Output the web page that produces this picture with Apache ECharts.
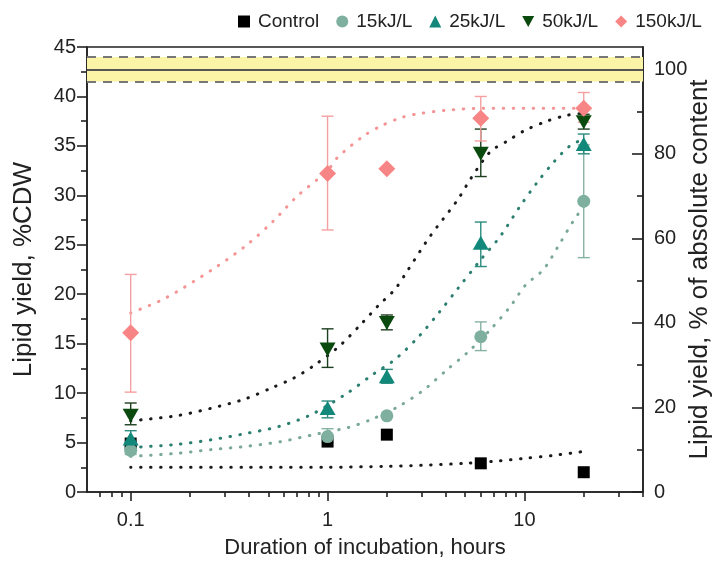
<!DOCTYPE html>
<html>
<head>
<meta charset="utf-8">
<script src="https://cdn.jsdelivr.net/npm/echarts@6/dist/echarts.min.js"></script>
<style>
html,body{margin:0;padding:0;background:#fff;}
#chart{width:717px;height:567px;}
</style>
</head>
<body>
<div id="chart"></div>
<script>
// ---- data ----
const hours = [0.1, 1, 2, 6, 20];
const seriesNames = ['Control', '15kJ/L', '25kJ/L', '50kJ/L', '150kJ/L'];

const control = [4.9, 5.1, 5.8, 2.9, 2.0];
const kj15 = [4.2, 5.6, 7.7, 15.7, 29.4];
const kj25 = [5.4, 8.5, 11.7, 25.2, 35.2];
const kj50 = [7.7, 14.4, 17.1, 34.2, 37.4];
const kj150 = [16.1, 32.2, 32.7, 37.8, 38.8];

const kj15Low = [3.8, 5.0, null, 14.3, 23.7];
const kj15High = [4.6, 6.4, null, 17.2, 35.1];
const kj25Low = [4.6, 7.5, 11.0, 22.8, 34.2];
const kj25High = [6.2, 9.2, 12.4, 27.3, 36.2];
const kj50Low = [6.8, 12.6, 16.4, 31.9, 36.7];
const kj50High = [9.0, 16.5, 17.9, 36.7, 38.2];
const kj150Low = [10.1, 26.5, null, 35.5, 37.4];
const kj150High = [22.0, 38.0, null, 40.0, 40.4];

// fitted curves
const fitControlX = [0.1, 0.5, 1, 2, 3, 5, 7, 10, 14, 20];
const fitControlY = [2.5, 2.5, 2.5, 2.6, 2.7, 2.9, 3.1, 3.4, 3.7, 4.1];
const fit15X = [0.1, 0.17, 0.26, 0.38, 0.58, 0.85, 1.26, 1.65, 2.27, 3.07, 4.06, 5.13, 6.7, 8.5, 10.1, 12.5, 15.2, 17.7, 20];
const fit15Y = [3.6, 3.9, 4.3, 4.6, 5.1, 5.8, 6.5, 7.3, 8.6, 10.3, 12.4, 14.1, 16.4, 18.8, 20.9, 22.5, 25.2, 27.4, 28.9];
const fit25X = [0.1, 0.17, 0.26, 0.38, 0.56, 0.82, 1.26, 1.7, 2.2, 2.9, 3.7, 4.6, 6, 7.5, 9.5, 11.6, 14, 17, 20];
const fit25Y = [4.5, 4.8, 5.3, 5.9, 6.6, 7.8, 10.0, 11.9, 13.4, 15.7, 18.2, 20.6, 23.5, 25.8, 28.9, 31.3, 33.3, 35.0, 35.7];
const fit50X = [0.1, 0.17, 0.26, 0.38, 0.53, 0.67, 0.84, 1.14, 1.5, 1.8, 2.2, 2.55, 3.3, 4.6, 5.3, 6.7, 8.2, 9.9, 13, 16.5, 20];
const fit50Y = [7.2, 7.7, 8.5, 9.4, 10.6, 11.5, 12.7, 14.7, 17.1, 18.8, 20.5, 22.4, 25.8, 29.6, 31.6, 34.4, 35.5, 36.5, 37.5, 38.1, 38.3];
const fit150X = [0.1, 0.15, 0.26, 0.39, 0.53, 0.7, 1, 1.12, 1.5, 1.86, 2.4, 3, 4, 6, 10, 20];
const fit150Y = [18.1, 19.6, 22.5, 25.0, 27.4, 29.9, 32.5, 33.8, 35.9, 37.0, 37.9, 38.3, 38.6, 38.8, 38.8, 38.8];

// reference band (absolute content)
const bandLow = 41.5;
const bandMid = 42.75;
const bandHigh = 44;

// axes
const xMin = 0.06, xMax = 40;
const xTickLabels = [0.1, 1, 10];
const xMinorTicks = [0.07, 0.08, 0.09, 0.2, 0.3, 0.4, 0.5, 0.6, 0.7, 0.8, 0.9, 2, 3, 4, 5, 6, 7, 8, 9, 20, 30, 40];
const yLeftMax = 45;
const yRightMax = 105.3;
const yRightLabels = [0, 20, 40, 60, 80, 100];
const yRightMinor = [10, 30, 50, 70, 90];

// ---- chart ----
const FONT = 'Liberation Sans, Arial, sans-serif';
const colors = {
  'Control': '#000000',
  '15kJ/L': '#7fb09f',
  '25kJ/L': '#12887a',
  '50kJ/L': '#0b4a0e',
  '150kJ/L': '#f88585'
};
const errColors = {
  '15kJ/L': '#86b2a4',
  '25kJ/L': '#2a8a7d',
  '50kJ/L': '#1d3f1f',
  '150kJ/L': '#f5a0a0'
};
const symbols = {
  'Control': 'rect',
  '15kJ/L': 'circle',
  '25kJ/L': 'triangle',
  '50kJ/L': 'path://M0,0 L10,0 L5,9 Z',
  '150kJ/L': 'diamond'
};
const sizes = {
  'Control': 12,
  '15kJ/L': 13,
  '25kJ/L': [16, 14],
  '50kJ/L': [16, 14],
  '150kJ/L': [17, 17]
};
const values = [control, kj15, kj25, kj50, kj150];
const lows = [null, kj15Low, kj25Low, kj50Low, kj150Low];
const highs = [null, kj15High, kj25High, kj50High, kj150High];

const fits = [
  {x: fitControlX, y: fitControlY, color: '#1a1a1a'},
  {x: fit15X, y: fit15Y, color: '#7aa898'},
  {x: fit25X, y: fit25Y, color: '#2a7f70'},
  {x: fit50X, y: fit50Y, color: '#1a1a1a'},
  {x: fit150X, y: fit150Y, color: '#f49494'}
];

const series = [];

// reference band
series.push({
  type: 'line',
  name: 'band',
  xAxisIndex: 0, yAxisIndex: 0,
  data: [],
  silent: true,
  markArea: {
    silent: true,
    itemStyle: {color: '#fbf3a6'},
    data: [[{yAxis: bandLow}, {yAxis: bandHigh}]]
  },
  markLine: {
    silent: true,
    symbol: 'none',
    label: {show: false},
    data: [
      {yAxis: bandMid, lineStyle: {color: '#555', width: 2, type: 'solid'}},
      {yAxis: bandLow, lineStyle: {color: '#777', width: 2, type: [9, 7]}},
      {yAxis: bandHigh, lineStyle: {color: '#777', width: 2, type: [9, 7]}}
    ]
  },
  z: 1
});

fits.forEach(function (f) {
  series.push({
    type: 'line',
    xAxisIndex: 0, yAxisIndex: 0,
    data: f.x.map(function (v, i) { return [v, f.y[i]]; }),
    smooth: 0.3,
    showSymbol: false,
    silent: true,
    lineStyle: {color: f.color, width: 3, type: [0.5, 9.5], cap: 'round'},
    z: 2
  });
});

function errRenderer(color) {
  return function (params, api) {
    const x = api.value(0), lo = api.value(1), hi = api.value(2);
    const p1 = api.coord([x, lo]);
    const p2 = api.coord([x, hi]);
    const w = 6;
    const st = {stroke: color, lineWidth: 1.4, fill: null};
    return {
      type: 'group',
      children: [
        {type: 'line', shape: {x1: p1[0], y1: p1[1], x2: p2[0], y2: p2[1]}, style: st},
        {type: 'line', shape: {x1: p1[0] - w, y1: p1[1], x2: p1[0] + w, y2: p1[1]}, style: st},
        {type: 'line', shape: {x1: p2[0] - w, y1: p2[1], x2: p2[0] + w, y2: p2[1]}, style: st}
      ]
    };
  };
}

seriesNames.forEach(function (name, k) {
  if (lows[k]) {
    const d = [];
    hours.forEach(function (h, i) {
      if (lows[k][i] != null) d.push([h, lows[k][i], highs[k][i]]);
    });
    series.push({
      type: 'custom',
      xAxisIndex: 0, yAxisIndex: 0,
      renderItem: errRenderer(errColors[name]),
      encode: {x: 0, y: [1, 2]},
      data: d,
      silent: true,
      z: 3
    });
  }
});

seriesNames.forEach(function (name, k) {
  series.push({
    type: 'scatter',
    name: name,
    xAxisIndex: 0, yAxisIndex: 0,
    symbol: symbols[name],
    symbolSize: sizes[name],
    itemStyle: {color: colors[name], opacity: 1},
    data: hours.map(function (h, i) { return [h, values[k][i]]; }),
    z: 4
  });
});

const axisLineStyle = {color: '#222', width: 1.6};
const labelStyle = {color: '#222', fontSize: 20, fontFamily: FONT};
const yNameStyle = {color: '#222', fontSize: 26, fontFamily: FONT};
const xNameStyle = {color: '#222', fontSize: 22, fontFamily: FONT};

const option = {
  animation: false,
  backgroundColor: '#fff',
  textStyle: {fontFamily: FONT},
  legend: {
    data: seriesNames.map(function (n) { return {name: n, icon: symbols[n]}; }),
    left: 233,
    top: 7,
    itemWidth: 12,
    itemHeight: 12,
    itemGap: 17,
    textStyle: {color: '#222', fontSize: 19, fontFamily: FONT, padding: [0, 0, 0, 3]},
    selectedMode: false
  },
  grid: {
    left: 87, right: 74, top: 47, bottom: 75,
    containLabel: false,
    outerBoundsMode: 'none',
    show: true, borderColor: '#222', borderWidth: 1.6, backgroundColor: 'transparent'
  },
  xAxis: [
    {
      type: 'log', logBase: 10, min: xMin, max: xMax, position: 'bottom',
      name: 'Duration of incubation, hours', nameLocation: 'middle', nameGap: 45,
      nameMoveOverlap: false,
      nameTextStyle: xNameStyle,
      axisLine: {show: true, onZero: false, lineStyle: axisLineStyle},
      axisTick: {show: true, inside: false, length: 9, lineStyle: axisLineStyle, customValues: xTickLabels},
      axisLabel: Object.assign({margin: 18, customValues: xTickLabels, formatter: function (v) { return String(v); }}, labelStyle),
      splitLine: {show: false},
      minorTick: {show: false}
    },
    {
      type: 'log', logBase: 10, min: xMin, max: xMax, position: 'bottom',
      axisLine: {show: false, onZero: false},
      axisTick: {show: true, inside: false, length: 5, lineStyle: axisLineStyle, customValues: xMinorTicks},
      axisLabel: {show: false},
      splitLine: {show: false}
    }
  ],
  yAxis: [
    {
      type: 'value', min: 0, max: yLeftMax, interval: 5, position: 'left',
      name: 'Lipid yield, %CDW', nameLocation: 'middle', nameGap: 50, nameRotate: 90,
      nameMoveOverlap: false,
      nameTextStyle: yNameStyle,
      axisLine: {show: true, onZero: false, lineStyle: axisLineStyle},
      axisTick: {show: true, inside: false, length: 10, lineStyle: axisLineStyle},
      minorTick: {show: true, splitNumber: 2, length: 6, lineStyle: axisLineStyle},
      axisLabel: Object.assign({margin: 11}, labelStyle),
      splitLine: {show: false},
      minorSplitLine: {show: false}
    },
    {
      type: 'value', min: 0, max: yRightMax, position: 'right', alignTicks: false,
      name: 'Lipid yield, % of absolute content', nameLocation: 'middle', nameGap: 44, nameRotate: 90,
      nameMoveOverlap: false,
      nameTextStyle: yNameStyle,
      axisLine: {show: true, onZero: false, lineStyle: axisLineStyle},
      axisTick: {show: true, inside: true, length: 11, lineStyle: axisLineStyle, customValues: yRightLabels},
      axisLabel: Object.assign({margin: 11, customValues: yRightLabels}, labelStyle),
      splitLine: {show: false}
    },
    {
      type: 'value', min: 0, max: yRightMax, position: 'right', alignTicks: false,
      axisLine: {show: false, onZero: false},
      axisTick: {show: true, inside: true, length: 6, lineStyle: axisLineStyle, customValues: yRightMinor},
      axisLabel: {show: false},
      splitLine: {show: false}
    }
  ],
  series: series
};

const chart = echarts.init(document.getElementById('chart'), null, {renderer: 'canvas'});
chart.setOption(option);
</script>
</body>
</html>
